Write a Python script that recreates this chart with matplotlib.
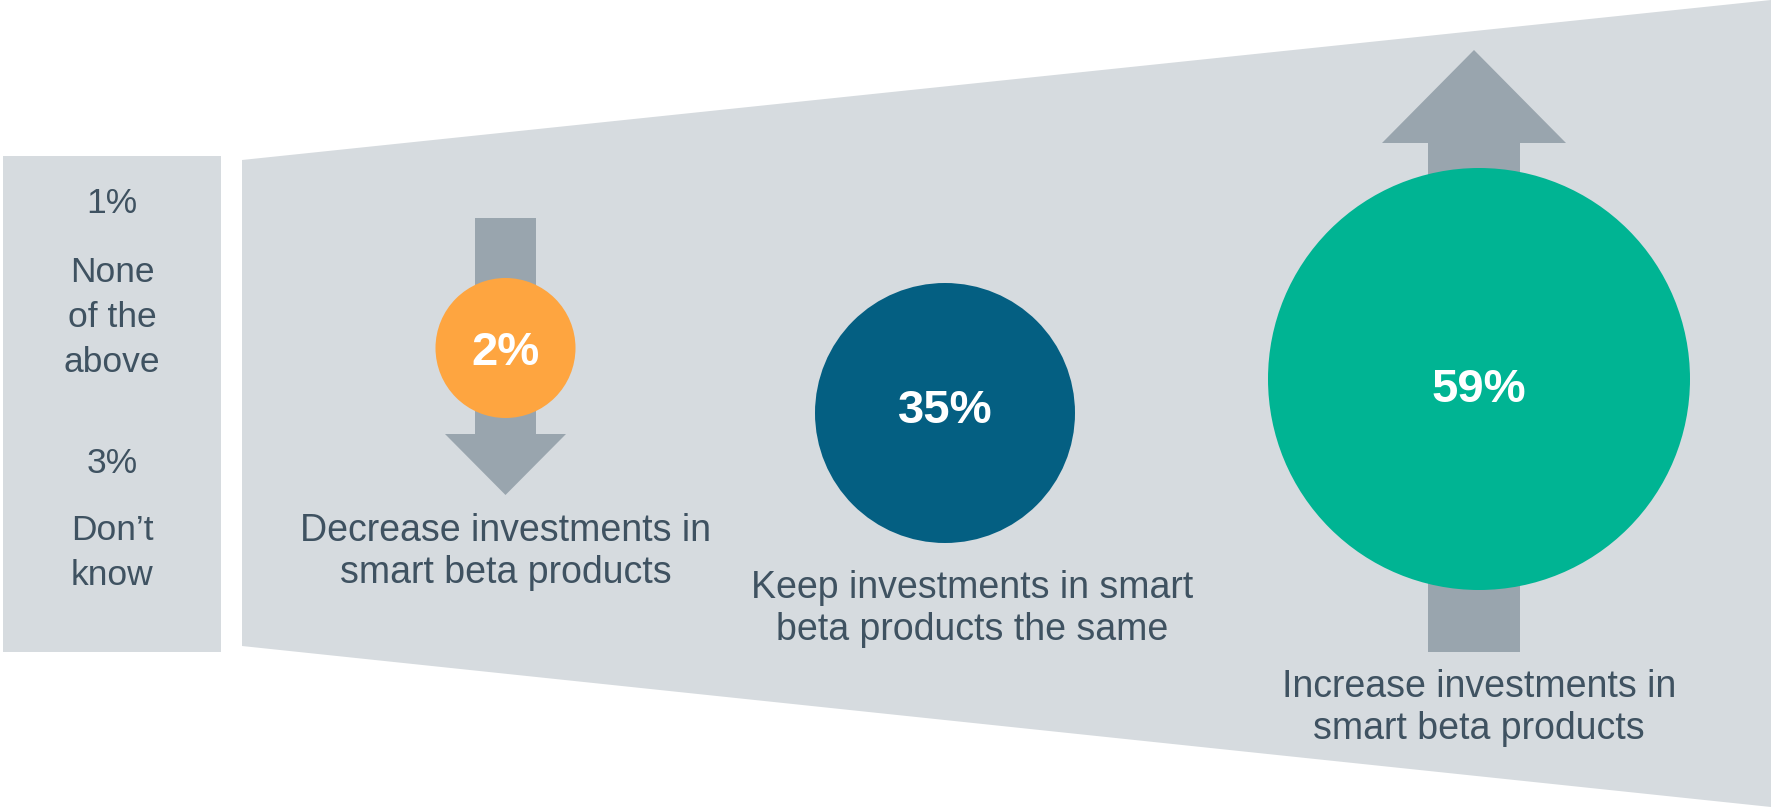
import matplotlib
matplotlib.use("Agg")
import matplotlib.pyplot as plt
from matplotlib.patches import Polygon, Circle, Rectangle

# Survey responses: planned change in smart beta allocations
categories = [
    "Decrease investments in\nsmart beta products",
    "Keep investments in smart\nbeta products the same",
    "Increase investments in\nsmart beta products",
]
shares = [2, 35, 59]
other_labels = ["None\nof the\nabove", "Don\u2019t\nknow"]
other_shares = [1, 3]

# Colours
BG_GREY = "#d6dbdf"
ARROW_GREY = "#99a5ae"
TEXT_COL = "#3f5261"
BUBBLE_COLS = ["#fea540", "#045f82", "#00b493"]

# Layout (pixel space, y downward)
W, H = 1771, 807
bubble_x = [505.5, 945.0, 1479.0]
bubble_y = [348.0, 413.0, 379.0]
bubble_r = [70.0, 130.0, 211.0]
pct_baseline = [365.0, 423.0, 402.0]
label_x = [506.0, 972.0, 1479.0]
label_baseline = [541.0, 598.0, 697.0]
label_step = 42.0
other_x = 112.0
other_pct_baseline = [213.0, 473.0]
other_label_first = [282.0, 540.0]
other_step = 45.0

fig = plt.figure(figsize=(W / 100, H / 100), dpi=100)
ax = fig.add_axes([0, 0, 1, 1])
ax.set_xlim(0, W)
ax.set_ylim(H, 0)
ax.axis("off")

# Side panel for the residual answers
ax.add_patch(Rectangle((3, 156), 218, 496, facecolor=BG_GREY, edgecolor="none"))

# Widening funnel behind the main answers
ax.add_patch(Polygon([(242, 160), (W, 0), (W, H), (242, 646)],
                     closed=True, facecolor=BG_GREY, edgecolor="none"))

# Downward arrow (decrease)
down = [(475, 218), (536, 218), (536, 434), (566, 434), (505.5, 495),
        (445, 434), (475, 434)]
ax.add_patch(Polygon(down, closed=True, facecolor=ARROW_GREY, edgecolor="none"))

# Upward arrow (increase)
up = [(1428, 652), (1520, 652), (1520, 143), (1566, 143), (1474, 50),
      (1382, 143), (1428, 143)]
ax.add_patch(Polygon(up, closed=True, facecolor=ARROW_GREY, edgecolor="none"))

font = ["Liberation Sans", "DejaVu Sans"]

for i, (cat, val) in enumerate(zip(categories, shares)):
    ax.add_patch(Circle((bubble_x[i], bubble_y[i]), bubble_r[i],
                        facecolor=BUBBLE_COLS[i], edgecolor="none", zorder=3))
    ax.text(bubble_x[i], pct_baseline[i], f"{val}%", ha="center", va="baseline",
            fontsize=34, fontweight="bold", color="white", family=font, zorder=4)
    for j, line in enumerate(cat.split("\n")):
        ax.text(label_x[i], label_baseline[i] + j * label_step, line,
                ha="center", va="baseline", fontsize=27, color=TEXT_COL,
                family=font, zorder=4)

for k, (lab, val) in enumerate(zip(other_labels, other_shares)):
    ax.text(other_x, other_pct_baseline[k], f"{val}%", ha="center", va="baseline",
            fontsize=25.5, color=TEXT_COL, family=font)
    for j, line in enumerate(lab.split("\n")):
        ax.text(other_x, other_label_first[k] + j * other_step, line,
                ha="center", va="baseline", fontsize=25.5, color=TEXT_COL,
                family=font)

fig.savefig("out.png", dpi=100, facecolor="white")
